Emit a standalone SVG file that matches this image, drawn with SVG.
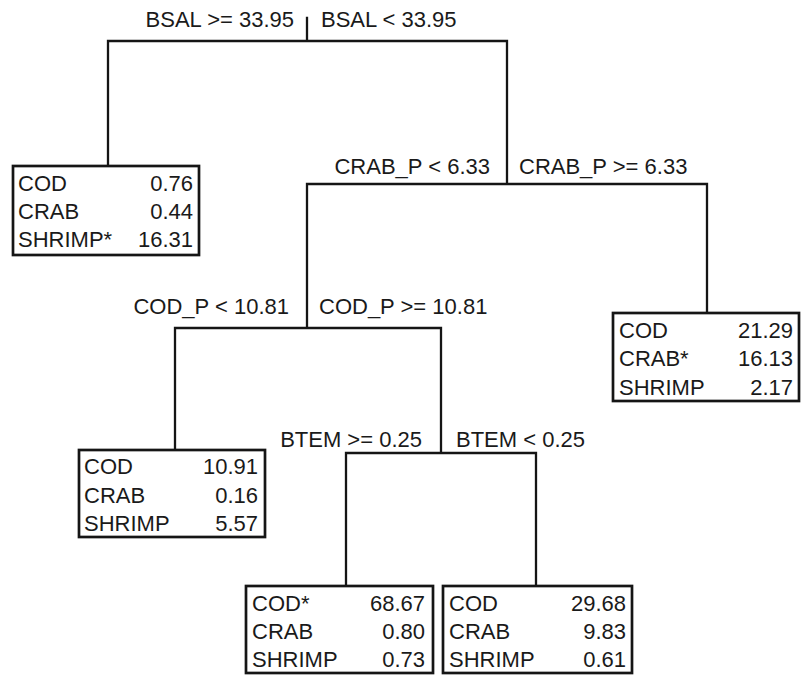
<svg xmlns="http://www.w3.org/2000/svg" width="803" height="675" viewBox="0 0 803 675">
<style>
text{font-family:"Liberation Sans",Arial,Helvetica,sans-serif;font-size:22px;fill:#1a1a1a}
.e{text-anchor:end}
.c{fill:none;stroke:#151515;stroke-width:2.3;stroke-linecap:square}
.b{fill:#fff;stroke:#151515;stroke-width:2.7}
</style>
<rect width="803" height="675" fill="#fff"/>
<g id="connectors">
<path class="c" d="M307 18V41M108 41H507M108 41V166M507 41V184M307 184H707M707 184V313M307 184V328M175 328H441M175 328V450M441 328V453M346 453H536M346 453V586M536 453V586"/>
</g>
<g id="split-bsal">
<text class="e" x="294" y="27">BSAL &gt;= 33.95</text>
<text x="321" y="27">BSAL &lt; 33.95</text>
</g>
<g id="split-crabp">
<text class="e" x="490" y="174">CRAB_P &lt; 6.33</text>
<text x="519" y="174">CRAB_P &gt;= 6.33</text>
</g>
<g id="split-codp">
<text class="e" x="289" y="314">COD_P &lt; 10.81</text>
<text x="319" y="314">COD_P &gt;= 10.81</text>
</g>
<g id="split-btem">
<text class="e" x="422" y="447">BTEM &gt;= 0.25</text>
<text x="456" y="447">BTEM &lt; 0.25</text>
</g>
<g id="leaf1">
<rect class="b" x="13" y="166" width="186" height="89"/>
<text x="18" y="191">COD</text><text class="e" x="193" y="191">0.76</text>
<text x="18" y="219">CRAB</text><text class="e" x="193" y="219">0.44</text>
<text x="18" y="247">SHRIMP*</text><text class="e" x="193" y="247">16.31</text>
</g>
<g id="leaf2">
<rect class="b" x="613" y="313" width="186" height="88"/>
<text x="619" y="338">COD</text><text class="e" x="793" y="338">21.29</text>
<text x="619" y="366">CRAB*</text><text class="e" x="793" y="366">16.13</text>
<text x="619" y="395">SHRIMP</text><text class="e" x="793" y="395">2.17</text>
</g>
<g id="leaf3">
<rect class="b" x="79" y="450" width="186" height="87"/>
<text x="84" y="474">COD</text><text class="e" x="258" y="474">10.91</text>
<text x="84" y="503">CRAB</text><text class="e" x="258" y="503">0.16</text>
<text x="84" y="531">SHRIMP</text><text class="e" x="258" y="531">5.57</text>
</g>
<g id="leaf4">
<rect class="b" x="246" y="586" width="187" height="87"/>
<text x="252" y="611">COD*</text><text class="e" x="425" y="611">68.67</text>
<text x="252" y="639">CRAB</text><text class="e" x="425" y="639">0.80</text>
<text x="252" y="667">SHRIMP</text><text class="e" x="425" y="667">0.73</text>
</g>
<g id="leaf5">
<rect class="b" x="443" y="586" width="189" height="87"/>
<text x="449" y="611">COD</text><text class="e" x="626" y="611">29.68</text>
<text x="449" y="639">CRAB</text><text class="e" x="626" y="639">9.83</text>
<text x="449" y="667">SHRIMP</text><text class="e" x="626" y="667">0.61</text>
</g>
</svg>
